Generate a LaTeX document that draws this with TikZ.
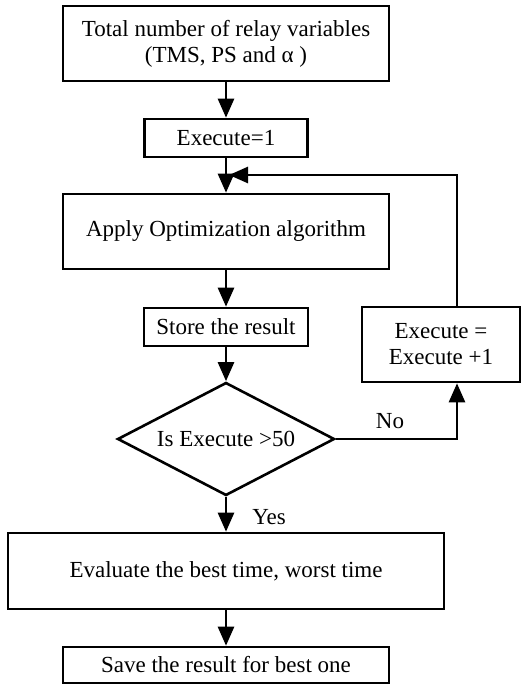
\documentclass[tikz,border=0pt]{standalone}
\usepackage{fontspec}
\setmainfont{Liberation Serif}
\usetikzlibrary{shapes.geometric,arrows.meta,calc}
\begin{document}
\begin{tikzpicture}[x=1pt,y=-1pt,
  box/.style={draw,line width=2.6pt,rectangle,inner sep=0pt,align=center,font=\fontsize{23}{26}\selectfont},
  dia/.style={draw,line width=2.6pt,diamond,aspect=1.92,inner sep=0pt,align=center,font=\fontsize{23}{26}\selectfont},
  arr/.style={line width=2.6pt,-{Triangle[length=19pt,width=16pt]}},
  lbl/.style={font=\fontsize{23}{26}\selectfont,inner sep=0pt}]
\useasboundingbox (0,0) rectangle (522,685);
\node[box,minimum width=326pt,minimum height=75pt] (b1) at (226,43.5) {Total number of relay variables\\(TMS, PS and α )};
\node[box,minimum width=163pt,minimum height=38pt] (b2) at (226,138) {Execute=1};
\node[box,minimum width=326pt,minimum height=75pt] (b3) at (226,231.5) {Apply Optimization algorithm};
\node[box,minimum width=164pt,minimum height=38pt] (b4) at (226,327) {Store the result};
\node[dia,minimum width=217pt,minimum height=113pt] (dec) at (226,439) {Is Execute >50};
\node[box,minimum width=158pt,minimum height=75pt] (b5) at (441,344.5) {Execute =\\Execute +1};
\node[box,minimum width=436pt,minimum height=76pt] (b6) at (226,571) {Evaluate the best time, worst time};
\node[box,minimum width=326pt,minimum height=36pt] (b7) at (226,665) {Save the result for best one};
\node[lbl] (no) at (390,421) {No};
\node[lbl] (yes) at (269,517) {Yes};
\coordinate (lx) at (457,0);
\coordinate (jn) at (229,175);
\draw[arr] (b1) -- (b2);
\draw[arr] (b2) -- (b3);
\draw[arr] (b3) -- (b4);
\draw[arr] (b4) -- (dec);
\draw[arr] (dec) -- (b6);
\draw[arr] (b6) -- (b7);
\draw[arr] (dec.east) -| (b5.south -| lx);
\draw[arr] (b5.north -| lx) |- (jn);
\end{tikzpicture}
\end{document}
